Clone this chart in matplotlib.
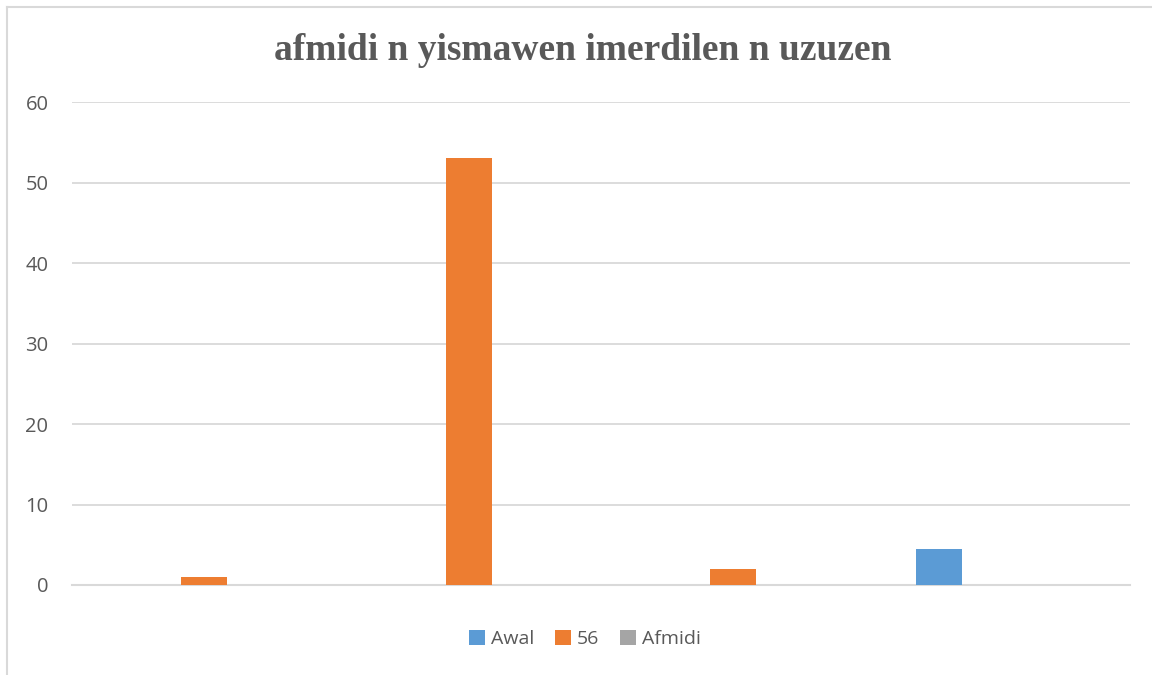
import matplotlib
matplotlib.use("Agg")
import matplotlib.pyplot as plt
import numpy as np
from matplotlib.lines import Line2D
from matplotlib.patches import Patch

categories = ["1", "2", "3", "4"]
series_names = ["Awal", "56", "Afmidi"]
awal = [0, 0, 0, 4.5]
s56 = [1, 53, 2, 0]
afmidi = [0, 0, 0, 0]
colors = ["#5B9BD5", "#ED7D31", "#A5A5A5"]
yticks = [0, 10, 20, 30, 40, 50, 60]
title = "afmidi n yismawen imerdilen n uzuzen"

W, H = 1152, 675
fig = plt.figure(figsize=(W / 100, H / 100), dpi=100)
fig.patch.set_facecolor("white")

ax = fig.add_axes([72 / W, 1 - 585 / H, (1130 - 72) / W, (585 - 102) / H])
x = np.arange(len(categories))
width = 0.174
offset = 0.223
for i, (vals, c) in enumerate(zip([awal, s56, afmidi], colors)):
    ax.bar(x + (i - 1) * offset, vals, width=width, color=c, zorder=3)

ax.set_xlim(-0.5, len(categories) - 0.5)
ax.set_ylim(0, 60)
ax.set_yticks(yticks)
ax.set_xticks([])
ax.grid(axis="y", color="#D9D9D9", linewidth=1.3, zorder=0)
for s in ["top", "right", "left"]:
    ax.spines[s].set_visible(False)
ax.spines["bottom"].set_color("#D9D9D9")
ax.spines["bottom"].set_linewidth(1.5)
ax.tick_params(axis="y", length=0, pad=17, labelsize=14.5, labelcolor="#595959")
for lbl in ax.get_yticklabels():
    lbl.set_fontfamily("Open Sans")

fig.text(583 / W, 1 - 51 / H, title, ha="center", va="center",
         fontsize=27, fontweight="bold", color="#595959", family="Liberation Serif")

handles = [Patch(facecolor=c, edgecolor="none") for c in colors]
fig.legend(handles, series_names, loc="center", bbox_to_anchor=(585 / W, 1 - 639 / H),
           ncol=3, frameon=False, handlelength=0.8, handleheight=0.8,
           handletextpad=0.3, columnspacing=1.1,
           prop={"family": "Open Sans", "size": 14}, labelcolor="#595959")

fig.add_artist(Line2D([7 / W, 7 / W], [0, 1 - 7 / H], color="#D9D9D9", lw=1.5,
                      transform=fig.transFigure))
fig.add_artist(Line2D([7 / W, 1], [1 - 7 / H, 1 - 7 / H], color="#D9D9D9", lw=1.5,
                      transform=fig.transFigure))

fig.savefig("out.png", dpi=100, facecolor="white")
